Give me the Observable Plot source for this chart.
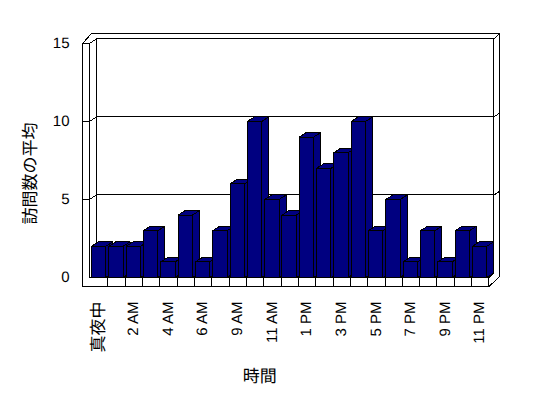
<!DOCTYPE html>
<html>
<head>
<meta charset="utf-8">
<script src="https://cdn.jsdelivr.net/npm/d3@7"></script>
<script src="https://cdn.jsdelivr.net/npm/@observablehq/plot@0.6"></script>
<style>
  html, body { margin: 0; padding: 0; background: #fff; }
  #chart svg { display: block; font-family: "Liberation Sans", "Noto Sans CJK JP", sans-serif; -webkit-font-smoothing: antialiased; }
  #chart svg path { shape-rendering: crispEdges; }
  #chart svg text { text-rendering: geometricPrecision; }
</style>
</head>
<body>
<div id="chart"></div>
<script>
// ---- data ----
const hours = ["真夜中","1 AM","2 AM","3 AM","4 AM","5 AM","6 AM","7 AM","9 AM","10 AM","11 AM","正午","1 PM","2 PM","3 PM","4 PM","5 PM","6 PM","7 PM","8 PM","9 PM","10 PM","11 PM"];
const visits = [2,2,2,3,1,4,1,3,6,10,5,4,9,7,8,10,3,5,1,3,1,3,2];
const yTicks = [0,5,10,15];
const yTitle = "訪問数の平均";
const xTitle = "時間";

// ---- 3D geometry constants (in scale units) ----
const n = visits.length;
const BW = 0.83;       // front face width
const DX = 0.405;      // depth in x units
const DY = 0.29;       // depth in y units
const WALL = 0.405;    // left wall thickness
const FLOOR = 0.577;   // floor thickness
const leftInner = -0.116;
const leftOuter = leftInner - WALL;
const backLeft = leftInner + DX;
const floorRight = n - 0.05;
const backRight = floorRight + 0.29;
const outerRight = floorRight + 0.63;
const yMax = 15;
const outerTop = yMax + 0.64;

// outer silhouette
const outer = [
  [leftOuter, -FLOOR], [leftOuter, yMax], [leftOuter + 0.52, outerTop],
  [outerRight, outerTop], [outerRight, 0.06], [floorRight, -FLOOR], [leftOuter, -FLOOR]
].map(([x, y]) => ({x, y}));

// frame lines
const segs = [];
let sid = 0;
function seg(pts) { const id = sid++; pts.forEach(([x, y]) => segs.push({id, x, y})); }
seg([[leftOuter, yMax], [leftInner, yMax], [backLeft, yMax + DY], [backRight, yMax + DY], [outerRight, outerTop]]);
seg([[leftInner, yMax], [leftInner, 0], [floorRight, 0], [floorRight, -FLOOR]]);
seg([[backLeft, yMax + DY], [backLeft, DY]]);
seg([[backRight, yMax + DY], [backRight, DY], [floorRight, 0]]);
for (const v of yTicks.filter(t => t > 0 && t < yMax)) {
  seg([[leftOuter, v], [leftInner, v], [backLeft, v + DY], [backRight, v + DY], [outerRight, v + DY + 0.25]]);
}
for (let i = 0; i < n - 1; i++) seg([[i + 0.95, 0], [i + 0.95, -FLOOR]]);

// bar faces (side, top, front per bar, left to right)
const faces = [];
visits.forEach((v, i) => {
  const x0 = i, x1 = i + BW;
  const polys = [
    [[x1, 0], [x1, v], [x1 + DX, v + DY], [x1 + DX, DY], [x1, 0]],
    [[x0, v], [x1, v], [x1 + DX, v + DY], [x0 + DX, v + DY], [x0, v]],
    [[x0, 0], [x1, 0], [x1, v], [x0, v], [x0, 0]]
  ];
  polys.forEach((p, k) => p.forEach(([x, y]) => faces.push({id: i * 3 + k, x, y})));
});

const labels = hours.map((h, i) => ({h, i})).filter(d => d.i % 2 === 0);
const isCJK = s => /[\u3000-\u9fff]/.test(s);

const chart = Plot.plot({
  width: 548,
  height: 398,
  marginLeft: 82,
  marginRight: 48.7,
  marginTop: 33,
  marginBottom: 112,
  x: {domain: [leftOuter, outerRight], axis: null},
  y: {domain: [-FLOOR, outerTop], axis: null},
  marks: [
    Plot.line(outer, {x: "x", y: "y", fill: "white", stroke: "black", strokeWidth: 1}),
    Plot.line(segs, {x: "x", y: "y", z: "id", stroke: "black", strokeWidth: 1}),
    Plot.line(faces, {x: "x", y: "y", z: "id", fill: "#000080", stroke: "black", strokeWidth: 1, strokeLinejoin: "miter"}),
    Plot.text(yTicks, {x: leftOuter, y: d => d, text: d => String(d), dx: -13, textAnchor: "end", fontSize: 15, fill: "black"}),
    Plot.text(labels, {x: d => d.i + BW / 2, y: -FLOOR, text: "h", rotate: -90, textAnchor: "end", dy: 15, fontSize: d => isCJK(d.h) ? 17 : 15, fill: "black"}),
    Plot.text([yTitle], {x: leftOuter, y: 6.67, dx: -52, rotate: -90, fontSize: 17, fill: "black"}),
    Plot.text([xTitle], {frameAnchor: "bottom", dx: -31.5, dy: 95, fontSize: 17, fill: "black"})
  ]
});
document.getElementById("chart").append(chart);
</script>
</body>
</html>
